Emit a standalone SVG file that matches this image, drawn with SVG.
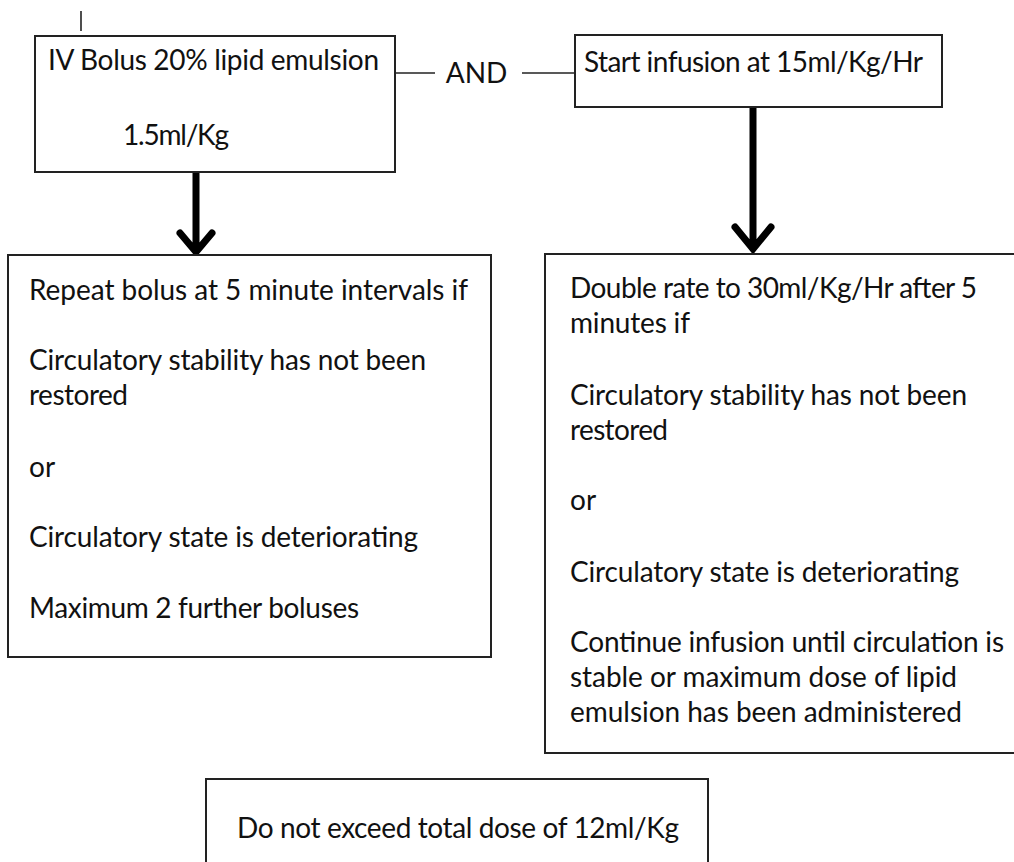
<svg xmlns="http://www.w3.org/2000/svg" width="1014" height="862" viewBox="0 0 1014 862">
<style>
.box{fill:#fff;stroke:#222;stroke-width:2}
.t{font-family:Lato,"Open Sans","Liberation Sans",sans-serif;font-size:28px;fill:#111}
.ln{stroke:#222;stroke-width:1.6;fill:none}
.arr{stroke:#000;stroke-width:7;fill:none;stroke-linecap:round;stroke-linejoin:miter}
</style>
<rect width="1014" height="862" fill="#fff"/>
<g id="connectors">
<line class="ln" x1="81" y1="11" x2="81" y2="31"/>
<line class="ln" x1="395" y1="73" x2="435" y2="73"/>
<line class="ln" x1="522" y1="73" x2="575" y2="73"/>
<path class="arr" d="M196,170 V250 M180,233 L196,252 L212,233"/>
<path class="arr" d="M753,106 V247 M735,227 L753,249 L771,227"/>
<text class="t" x="476.5" y="83" text-anchor="middle">AND</text>
</g>
<g id="node-bolus">
<rect class="box" x="35" y="36" width="360" height="136"/>
<text class="t" x="48" y="70" textLength="331" lengthAdjust="spacing">IV Bolus 20% lipid emulsion</text>
<text class="t" x="123" y="145" textLength="106" lengthAdjust="spacing">1.5ml/Kg</text>
</g>
<g id="node-infusion">
<rect class="box" x="575" y="35" width="367" height="72"/>
<text class="t" x="584" y="72" textLength="339" lengthAdjust="spacing">Start infusion at 15ml/Kg/Hr</text>
</g>
<g id="node-repeat">
<rect class="box" x="8" y="255" width="483" height="402"/>
<text class="t" x="29" y="300" textLength="439" lengthAdjust="spacing">Repeat bolus at 5 minute intervals if</text>
<text class="t" x="29" y="370" textLength="397" lengthAdjust="spacing">Circulatory stability has not been</text>
<text class="t" x="29" y="405" textLength="99" lengthAdjust="spacing">restored</text>
<text class="t" x="29" y="477">or</text>
<text class="t" x="29" y="547" textLength="389" lengthAdjust="spacing">Circulatory state is deteriorating</text>
<text class="t" x="29" y="618" textLength="330" lengthAdjust="spacing">Maximum 2 further boluses</text>
</g>
<g id="node-double">
<rect class="box" x="545" y="254" width="490" height="499"/>
<text class="t" x="570" y="298" textLength="407" lengthAdjust="spacing">Double rate to 30ml/Kg/Hr after 5</text>
<text class="t" x="570" y="333" textLength="120" lengthAdjust="spacing">minutes if</text>
<text class="t" x="570" y="405" textLength="397" lengthAdjust="spacing">Circulatory stability has not been</text>
<text class="t" x="570" y="440" textLength="98" lengthAdjust="spacing">restored</text>
<text class="t" x="570" y="510">or</text>
<text class="t" x="570" y="582" textLength="389" lengthAdjust="spacing">Circulatory state is deteriorating</text>
<text class="t" x="570" y="652" textLength="434" lengthAdjust="spacing">Continue infusion until circulation is</text>
<text class="t" x="570" y="687" textLength="387" lengthAdjust="spacing">stable or maximum dose of lipid</text>
<text class="t" x="570" y="722" textLength="392" lengthAdjust="spacing">emulsion has been administered</text>
</g>
<g id="node-max">
<rect class="box" x="206" y="779" width="502" height="110"/>
<text class="t" x="237" y="838" textLength="442" lengthAdjust="spacing">Do not exceed total dose of 12ml/Kg</text>
</g>
</svg>
